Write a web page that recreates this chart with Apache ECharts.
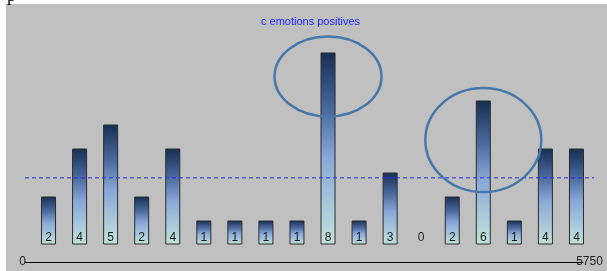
<!DOCTYPE html>
<html style="height: 100%">
<head>
  <meta charset="utf-8">
  <script type="text/javascript" src="https://cdn.jsdelivr.net/npm/echarts@6/dist/echarts.min.js"></script>
</head>
<body style="height: 100%; margin: 0; background: #fff">
  <div id="container" style="width: 607px; height: 271px"></div>
  <script type="text/javascript">
    // categories (unnamed in the picture) and bar values
    var categories = ['c1', 'c2', 'c3', 'c4', 'c5', 'c6', 'c7', 'c8', 'c9', 'c10',
                      'c11', 'c12', 'c13', 'c14', 'c15', 'c16', 'c17', 'c18'];
    var values = [2, 4, 5, 2, 4, 1, 1, 1, 1, 8, 1, 3, 0, 2, 6, 1, 4, 4];
    // bottom scale: only its two end labels are shown
    var scaleTicks = [0, 5750];
    // circled bars: category index and centre value of the circle
    var circledIndex = [9, 14];
    var circledValue = [7.0, 4.35];

    var dom = document.getElementById('container');
    var myChart = echarts.init(dom, null, { renderer: 'canvas' });

    var mean = values.reduce(function (a, b) { return a + b; }, 0) / values.length;

    var option = {
      backgroundColor: '#fff',
      animation: false,
      title: {
        text: 'c emotions positives',
        left: 256,
        top: 11,
        textStyle: {
          color: '#1e1eff',
          fontSize: 11,
          fontWeight: 'normal',
          fontFamily: 'Liberation Sans'
        }
      },
      grid: [
        { left: 33, right: 15, top: 52.5, bottom: 26.5 },
        { left: 25, right: 24, top: 261, bottom: 9 }
      ],
      xAxis: [
        { type: 'category', data: categories, show: false },
        {
          type: 'value', gridIndex: 1,
          min: scaleTicks[0], max: scaleTicks[1], interval: scaleTicks[1],
          axisLine: { show: true, lineStyle: { color: '#000', width: 1 } },
          axisTick: { show: false },
          splitLine: { show: false },
          axisLabel: {
            margin: 0,
            verticalAlign: 'middle',
            color: '#222',
            fontSize: 12,
            fontFamily: 'Liberation Sans',
            formatter: function (v) {
              return v === scaleTicks[0] ? '{l|' + v + '}' : '{r|' + v + '}';
            },
            rich: {
              l: { padding: [0, 5, 0, 0], fontSize: 12, color: '#222', fontFamily: 'Liberation Sans' },
              r: { padding: [0, 0, 0, 13], fontSize: 12, color: '#222', fontFamily: 'Liberation Sans' }
            }
          }
        }
      ],
      yAxis: [
        { type: 'value', min: 0, max: 8, show: false },
        { type: 'value', gridIndex: 1, show: false }
      ],
      series: [
        {
          type: 'bar',
          data: values.map(function (v) {
            return v === 0 ? { value: v, itemStyle: { borderWidth: 0 } } : v;
          }),
          barWidth: 15,
          itemStyle: {
            borderColor: '#2b2b2b',
            borderWidth: 1,
            color: new echarts.graphic.LinearGradient(0, 0, 0, 1, [
              { offset: 0, color: '#172d54' },
              { offset: 0.3, color: '#4a6a9e' },
              { offset: 0.55, color: '#8aa8d8' },
              { offset: 0.8, color: '#a9c9da' },
              { offset: 1, color: '#c2e2dc' }
            ])
          },
          label: {
            show: true,
            position: 'insideBottom',
            distance: 1,
            color: '#1a1a1a',
            fontSize: 12,
            fontFamily: 'Liberation Sans'
          }
        }
      ],
      graphic: [
        {
          type: 'rect', silent: true, z: -10,
          shape: { x: 6, y: 4, width: 601, height: 267 },
          style: { fill: '#c0c0c0' }
        },
        {
          type: 'text', silent: true, x: 7, y: 5,
          style: { text: 'p', fill: '#000', font: '18px "Liberation Serif"', verticalAlign: 'bottom' }
        }
      ]
    };
    myChart.setOption(option);

    // mean line and circles, positioned through the chart's own scales
    var meanY = myChart.convertToPixel({ yAxisIndex: 0 }, mean);
    var extra = [
      {
        type: 'line', silent: true, z: 50,
        shape: { x1: 25, y1: meanY, x2: 594, y2: meanY },
        style: { stroke: '#2a2ae6', lineWidth: 1, lineDash: [4, 3] }
      }
    ];
    var radii = [[53.5, 40], [58, 52]];
    circledIndex.forEach(function (idx, i) {
      var p = myChart.convertToPixel({ gridIndex: 0 }, [idx, circledValue[i]]);
      extra.push({
        type: 'ellipse', silent: true, z: 60,
        shape: { cx: p[0], cy: p[1], rx: radii[i][0], ry: radii[i][1] },
        style: { fill: null, stroke: '#4577a8', lineWidth: 2.5 }
      });
    });
    myChart.setOption({ graphic: option.graphic.concat(extra) });
  </script>
</body>
</html>
